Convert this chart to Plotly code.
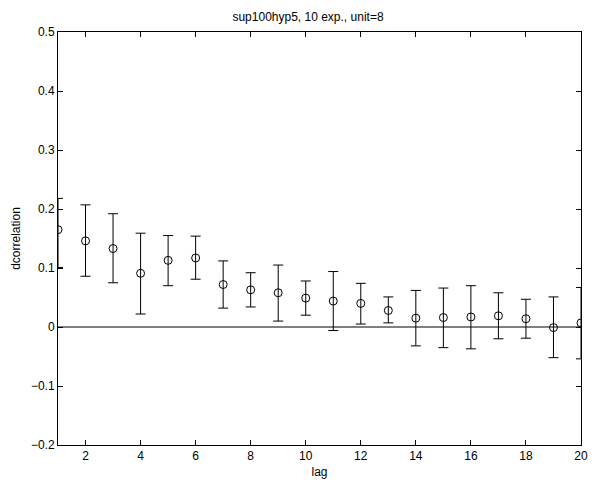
import plotly.graph_objects as go

# lag values and mean correlation difference with its error range
lag = list(range(1, 21))
dcorr = [0.165, 0.146, 0.133, 0.091, 0.113, 0.117, 0.072, 0.063, 0.058, 0.049,
         0.044, 0.040, 0.028, 0.015, 0.016, 0.017, 0.019, 0.014, -0.001, 0.007]
upper = [0.218, 0.207, 0.192, 0.159, 0.155, 0.154, 0.112, 0.092, 0.105, 0.078,
         0.094, 0.074, 0.051, 0.062, 0.066, 0.070, 0.058, 0.047, 0.051, 0.067]
lower = [0.101, 0.086, 0.075, 0.022, 0.070, 0.081, 0.032, 0.034, 0.010, 0.020,
         -0.006, 0.005, 0.007, -0.032, -0.035, -0.037, -0.020, -0.019, -0.052, -0.054]

err_plus = [u - m for u, m in zip(upper, dcorr)]
err_minus = [m - l for m, l in zip(dcorr, lower)]

x_ticks = list(range(2, 21, 2))
y_ticks = [-0.2, -0.1, 0, 0.1, 0.2, 0.3, 0.4, 0.5]
y_tick_labels = ["\u22120.2", "\u22120.1", "0", "0.1", "0.2", "0.3", "0.4", "0.5"]

font_family = "Liberation Sans, Arial, Helvetica, sans-serif"
base_font = dict(family=font_family, size=12, color="black")

fig = go.Figure()

# zero reference line
fig.add_trace(go.Scatter(
    x=[1, 20], y=[0, 0], mode="lines",
    line=dict(color="black", width=1), hoverinfo="skip", showlegend=False,
))

fig.add_trace(go.Scatter(
    x=lag, y=dcorr, mode="markers",
    marker=dict(symbol="circle-open", size=8, color="black", line=dict(width=1, color="black")),
    error_y=dict(type="data", symmetric=False, array=err_plus, arrayminus=err_minus,
                 color="black", thickness=1, width=5),
    showlegend=False,
))

axis_common = dict(
    showline=True, linecolor="black", linewidth=1, mirror="ticks",
    ticks="inside", ticklen=5, tickwidth=1, tickcolor="black",
    showgrid=False, zeroline=False, automargin=False,
    tickfont=base_font,
)

fig.update_layout(
    width=598, height=483,
    margin=dict(l=58, r=17, t=32, b=38),
    paper_bgcolor="white", plot_bgcolor="white",
    font=base_font,
    title=dict(text="sup100hyp5, 10 exp., unit=8", x=308 / 598, xanchor="center",
               y=1 - 16.5 / 483, yanchor="middle", font=base_font),
    xaxis=dict(range=[1, 20], tickvals=x_ticks,
               title=dict(text="lag", standoff=5, font=base_font),
               **axis_common),
    yaxis=dict(range=[-0.2, 0.5], tickvals=y_ticks, ticktext=y_tick_labels,
               title=dict(text="dcorrelation", standoff=7, font=base_font),
               **axis_common),
)

fig.write_html("out.html")
